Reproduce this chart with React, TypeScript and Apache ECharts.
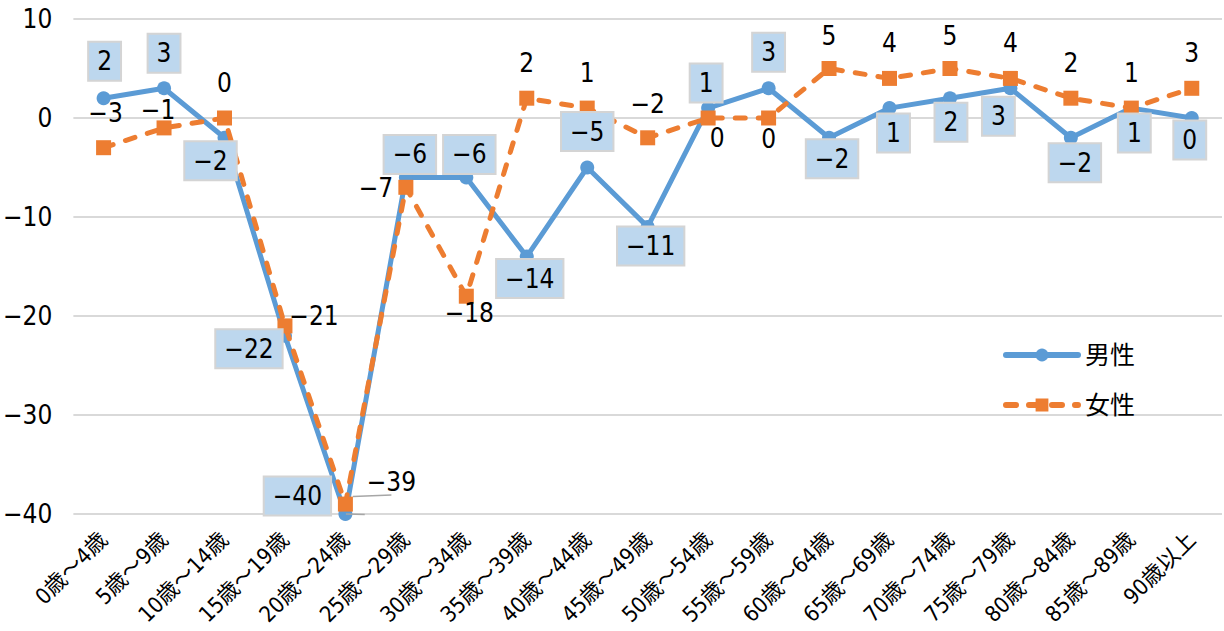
import React, { useEffect, useRef } from "react";
import * as echarts from "echarts";

const categories = [
  "0歳～4歳", "5歳～9歳", "10歳～14歳", "15歳～19歳", "20歳～24歳", "25歳～29歳",
  "30歳～34歳", "35歳～39歳", "40歳～44歳", "45歳～49歳", "50歳～54歳", "55歳～59歳",
  "60歳～64歳", "65歳～69歳", "70歳～74歳", "75歳～79歳", "80歳～84歳", "85歳～89歳", "90歳以上",
];
const maleValues = [2, 3, -2, -22, -40, -6, -6, -14, -5, -11, 1, 3, -2, 1, 2, 3, -2, 1, 0];
const femaleValues = [-3, -1, 0, -21, -39, -7, -18, 2, 1, -2, 0, 0, 5, 4, 5, 4, 2, 1, 3];
const seriesNames = ["男性", "女性"];
const yTicks = { min: -40, max: 10, interval: 10 };

// label placement offsets (px) relative to each point
const maleLabelOffsets: [number, number][] = [
  [1, -37], [0, -35], [-14, 23], [-36, 13], [-48, -18], [4, -23], [3, -23], [3, 22], [0, -36],
  [3, 19], [-2, -25], [0, -36], [3, 21], [4, 25], [1, 24], [-12, 28], [4, 25], [3, 25], [-2, 22],
];
const femaleLabelOffsets: [number, number][] = [
  [2, -35], [-6, -18], [0, -35], [29, -10], [46, -22], [-30, 1], [3, 17], [0, -35], [0, -35],
  [0, -34], [9, 20], [0, 21], [0, -33], [0, -35], [0, -33], [0, -35], [0, -35], [0, -35], [0, -35],
];
const leaderIdx = 4;

const FONT = "'DejaVu Sans Condensed', 'Noto Sans CJK JP', sans-serif";
const fmt = (v: number) => (v < 0 ? "\u2212" + Math.abs(v) : String(v));

export default function App() {
  const ref = useRef<HTMLDivElement>(null);
  useEffect(() => {
    if (!ref.current) return;
    const chart = echarts.init(ref.current, undefined, { renderer: "svg" });
    const blue = "#5B9BD5";
    const orange = "#ED7D31";

    const maleLabelData = maleValues.map((v, i) => ({
      value: v,
      label: { offset: maleLabelOffsets[i] },
      labelLine: i === leaderIdx ? { show: true } : { show: false },
    }));
    const femaleData = femaleValues.map((v, i) => ({
      value: v,
      label: { offset: femaleLabelOffsets[i] },
      labelLine: i === leaderIdx ? { show: true } : { show: false },
    }));

    chart.setOption({
      animation: false,
      grid: { left: 71, right: 2, top: 19, bottom: 117, containLabel: false },
      legend: {
        data: seriesNames,
        orient: "vertical",
        left: 998,
        top: 335,
        itemWidth: 72,
        itemHeight: 16,
        itemGap: 20,
        lineStyle: { width: 6 },
        textStyle: { fontSize: 25, lineHeight: 30, color: "#000", fontFamily: FONT, padding: [0, 0, 0, 2] },
      },
      xAxis: {
        type: "category",
        data: categories,
        axisLine: { show: false },
        axisTick: { show: false },
        axisLabel: { interval: 0, rotate: 45, fontSize: 22, color: "#000", fontFamily: FONT, margin: 22 },
      },
      yAxis: {
        type: "value",
        min: yTicks.min,
        max: yTicks.max,
        interval: yTicks.interval,
        axisLine: { show: false },
        axisTick: { show: false },
        splitLine: { lineStyle: { color: "#D9D9D9", width: 2 } },
        axisLabel: { fontSize: 26, color: "#000", fontFamily: FONT, margin: 21, formatter: (v: number) => fmt(v) },
      },
      series: [
        {
          name: seriesNames[0],
          type: "line",
          data: maleValues,
          z: 2,
          symbol: "circle",
          symbolSize: 14,
          itemStyle: { color: blue },
          lineStyle: { color: blue, width: 5, cap: "round" },
          label: { show: false },
        },
        {
          name: seriesNames[1],
          type: "line",
          data: femaleData,
          z: 3,
          symbol: "rect",
          symbolSize: 15,
          itemStyle: { color: orange },
          lineStyle: { color: orange, width: 5, type: [10, 13], cap: "round" },
          label: {
            show: true,
            position: "inside",
            fontSize: 26,
            color: "#000",
            fontFamily: FONT,
            formatter: (p: any) => fmt(p.value),
          },
          labelLine: { lineStyle: { color: "#A6A6A6", width: 1.5 } },
        },
        {
          name: "男性ラベル",
          type: "line",
          data: maleLabelData,
          z: 4,
          silent: true,
          symbol: "circle",
          symbolSize: 1,
          itemStyle: { color: "rgba(0,0,0,0)" },
          lineStyle: { width: 0, opacity: 0 },
          label: {
            show: true,
            position: "inside",
            fontSize: 26,
            color: "#000",
            fontFamily: FONT,
            backgroundColor: "#BDD7EE",
            borderColor: "#D4D4D4",
            borderWidth: 2,
            padding: [6, 8, 5, 8],
            formatter: (p: any) => fmt(p.value),
          },
          labelLine: { lineStyle: { color: "#A6A6A6", width: 1.5 } },
        },
      ],
    });
    return () => chart.dispose();
  }, []);
  return <div ref={ref} style={{ position: "absolute", left: 0, top: 0, width: 1224, height: 631 }} />;
}
